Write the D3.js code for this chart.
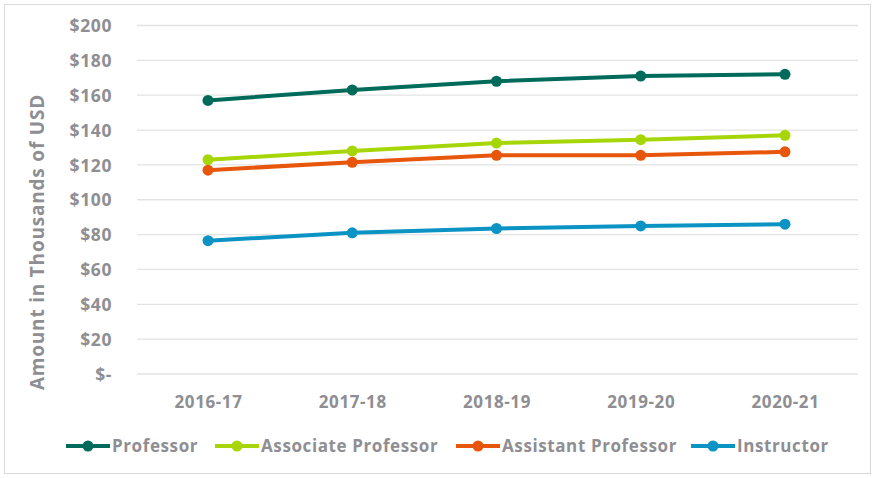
<!DOCTYPE html>
<html><head><meta charset="utf-8">
<script src="https://cdn.jsdelivr.net/npm/d3@7"></script>
<style>body{margin:0;background:#fff;}svg{display:block;font-family:"Open Sans",Lato,sans-serif;}</style>
</head><body>
<svg id="chart" width="875" height="478"></svg>
<script>
const categories = ["2016-17","2017-18","2018-19","2019-20","2020-21"];
const seriesNames = ["Professor","Associate Professor","Assistant Professor","Instructor"];
const professor = [157, 163, 168, 171, 172];
const associate = [123, 128, 132.5, 134.5, 137];
const assistant = [117, 121.5, 125.5, 125.5, 127.5];
const instructor = [76.5, 81, 83.5, 85, 86];
const yTicks = [0,20,40,60,80,100,120,140,160,180,200];
const colors = ["#006b5a","#a6d608","#e8560c","#0b93c3"];
const seriesData = [professor, associate, assistant, instructor];

const svg = d3.select("#chart");
svg.append("rect").attr("x",4.5).attr("y",4.5).attr("width",866).attr("height",469)
  .attr("fill","#fff").attr("stroke","#d9d9d9");

const x = d3.scalePoint().domain(categories).range([208, 785]);
const y = d3.scaleLinear().domain([0,200]).range([374, 25.5]);

const grid = svg.append("g");
grid.selectAll("line").data(yTicks).join("line")
  .attr("x1",137).attr("x2",858)
  .attr("y1",d=>y(d)).attr("y2",d=>y(d))
  .attr("stroke","#e3e3e3").attr("stroke-width",1.3);

const textColor = "#8e8e93";
const ls = "0.6px";
const yAxis = d3.axisLeft(y).tickValues(yTicks).tickSize(0).tickPadding(0)
  .tickFormat(d => d === 0 ? "$-" : "$" + d);
const yg = svg.append("g").attr("transform","translate(112,0)").call(yAxis);
yg.select(".domain").remove();
yg.selectAll("text").attr("fill",textColor).attr("font-size",17.5).attr("font-weight","bold")
  .attr("letter-spacing",ls).attr("dy","0.35em").attr("font-family","'Open Sans',sans-serif");

const xAxis = d3.axisBottom(x).tickSize(0).tickPadding(0);
const xg = svg.append("g").attr("transform","translate(0,396)").call(xAxis);
xg.select(".domain").remove();
xg.selectAll("text").attr("fill",textColor).attr("font-size",17).attr("font-weight","bold")
  .attr("letter-spacing",ls).attr("dy","0.71em").attr("font-family","'Open Sans',sans-serif");

svg.append("text").attr("transform","translate(44,242) rotate(-90)")
  .attr("text-anchor","middle").attr("fill",textColor).attr("font-size",19).attr("font-weight","bold")
  .attr("letter-spacing","0.8px")
  .text("Amount in Thousands of USD");

const line = d3.line().x((d,i)=>x(categories[i])).y(d=>y(d));
seriesData.forEach((s,k)=>{
  const g = svg.append("g");
  g.append("path").datum(s).attr("d",line).attr("fill","none")
    .attr("stroke",colors[k]).attr("stroke-width",4).attr("stroke-linejoin","round");
  g.selectAll("circle").data(s).join("circle")
    .attr("cx",(d,i)=>x(categories[i])).attr("cy",d=>y(d)).attr("r",5.5).attr("fill",colors[k]);
});

const legendX = [66, 215, 456, 691];
const leg = svg.append("g").attr("transform","translate(0,446)");
seriesNames.forEach((n,k)=>{
  const g = leg.append("g").attr("transform",`translate(${legendX[k]},0)`);
  g.append("line").attr("x1",0).attr("x2",44).attr("stroke",colors[k]).attr("stroke-width",4);
  g.append("circle").attr("cx",22).attr("r",5.5).attr("fill",colors[k]);
  g.append("text").attr("x",46).attr("dy","0.35em").attr("fill",textColor)
    .attr("font-size",17).attr("font-weight","bold").attr("letter-spacing",ls).text(n);
});
</script>
</body></html>
